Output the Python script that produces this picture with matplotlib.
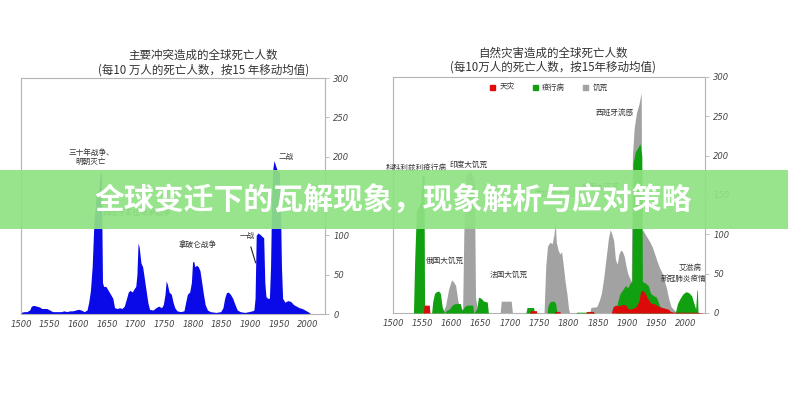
import matplotlib
matplotlib.use('Agg')
import matplotlib.pyplot as plt
from matplotlib.patches import Rectangle, Patch

plt.rcParams['font.family'] = ['Noto Sans CJK SC', 'DejaVu Sans']

# ---------------- data ----------------
# Left panel: deaths from major conflicts (per 100k, 15-yr moving average)
conflict_years = [1500, 1505, 1510, 1515, 1518, 1522, 1527, 1532, 1536, 1540, 1545, 1550, 1555, 1560,
                  1565, 1570, 1575, 1580, 1585, 1590, 1595, 1600, 1605, 1610, 1615, 1618, 1621, 1624,
                  1627, 1631, 1634, 1636, 1638, 1640, 1642, 1644, 1648, 1652, 1656, 1660, 1663, 1668,
                  1672, 1676, 1680, 1684, 1687, 1690, 1694, 1697, 1700, 1702, 1704, 1706, 1709, 1712,
                  1715, 1718, 1721, 1724, 1730, 1735, 1740, 1745, 1748, 1751, 1753, 1755, 1758, 1762,
                  1765, 1768, 1772, 1778, 1784, 1787, 1790, 1794, 1797, 1799, 1801, 1803, 1806, 1809,
                  1812, 1815, 1818, 1821, 1825, 1830, 1840, 1848, 1852, 1855, 1858, 1861, 1865, 1869,
                  1873, 1877, 1882, 1890, 1897, 1903, 1906, 1908, 1910, 1913, 1917, 1921, 1923, 1925,
                  1927, 1930, 1933, 1935, 1937, 1939, 1941, 1944, 1947, 1950, 1952, 1954, 1956, 1960,
                  1965, 1970, 1975, 1980, 1985, 1990, 1995, 2000, 2004]
conflict_vals = [2, 3, 3, 5, 10, 11, 10, 9, 7, 7, 7, 5, 3, 3,
                 3, 3, 4, 3, 4, 4, 5, 6, 5, 3, 5, 15, 30, 60,
                 115, 150, 155, 160, 180, 178, 40, 35, 35, 30, 25, 20, 8, 7,
                 8, 7, 10, 20, 28, 30, 28, 32, 35, 50, 90, 85, 65, 60,
                 45, 30, 15, 6, 5, 8, 10, 8, 12, 25, 42, 38, 28, 25,
                 15, 8, 4, 3, 4, 15, 25, 28, 40, 66, 67, 60, 62, 60,
                 55, 40, 25, 12, 5, 3, 2, 3, 8, 20, 27, 28, 25, 20,
                 12, 5, 3, 2, 3, 4, 5, 20, 100, 103, 101, 98, 97, 40,
                 22, 20, 20, 60, 150, 185, 195, 188, 182, 180, 150, 60, 20, 15,
                 17, 16, 12, 10, 8, 7, 5, 3, 1]

# Right panel: deaths from natural disasters
famine_years = [1500, 1585, 1590, 1595, 1600, 1603, 1607, 1611, 1615, 1619, 1621, 1624, 1628, 1632,
                1636, 1639, 1641, 1645, 1683, 1685, 1702, 1704, 1758, 1761, 1764, 1768, 1772, 1775,
                1777, 1779, 1782, 1785, 1788, 1791, 1794, 1797, 1800, 1802, 1836, 1838, 1848, 1852,
                1856, 1860, 1864, 1868, 1871, 1874, 1877, 1880, 1883, 1886, 1889, 1892, 1895, 1898,
                1901, 1904, 1907, 1909, 1912, 1916, 1920, 1924, 1925, 1927, 1931, 1935, 1939, 1943,
                1947, 1951, 1955, 1959, 1963, 1967, 1971, 1975, 1980, 1985, 2030]
famine_vals = [0, 0, 10, 30, 42, 40, 35, 15, 5, 5, 100, 175, 178, 180,
               175, 170, 20, 0, 0, 15, 15, 0, 0, 60, 85, 90, 88, 100,
               116, 90, 80, 75, 78, 60, 40, 25, 5, 0, 0, 7, 8, 15,
               25, 45, 70, 95, 106, 100, 92, 68, 62, 75, 80, 78, 72, 60,
               50, 45, 40, 200, 235, 255, 265, 280, 105, 105, 100, 95, 90, 84,
               75, 66, 58, 52, 42, 32, 18, 8, 4, 0, 0]

epidemic_years = [1500, 1535, 1537, 1540, 1544, 1547, 1550, 1553, 1554, 1566, 1568, 1571, 1574, 1578,
                  1581, 1584, 1588, 1591, 1596, 1601, 1606, 1611, 1615, 1618, 1622, 1626, 1632, 1636,
                  1638, 1643, 1646, 1650, 1655, 1661, 1663, 1727, 1729, 1740, 1742, 1763, 1765, 1768,
                  1771, 1775, 1778, 1780, 1812, 1814, 1842, 1845, 1880, 1884, 1888, 1893, 1897, 1901,
                  1905, 1908, 1910, 1914, 1918, 1922, 1925, 1926, 1931, 1936, 1940, 1945, 1950, 1955,
                  1960, 1965, 1975, 1982, 1986, 1990, 1995, 2000, 2005, 2010, 2015, 2017, 2019, 2020,
                  2021, 2030]
epidemic_vals = [0, 0, 65, 130, 135, 140, 175, 175, 0, 0, 15, 25, 27, 28,
                 25, 8, 0, 3, 5, 10, 12, 12, 12, 3, 8, 10, 10, 10,
                 0, 5, 20, 19, 15, 14, 0, 0, 7, 7, 0, 0, 10, 14,
                 15, 15, 12, 0, 0, 1, 1, 0, 0, 15, 25, 30, 35, 32,
                 38, 40, 190, 205, 210, 215, 200, 40, 38, 35, 25, 22, 20, 10,
                 3, 1, 0, 0, 12, 18, 24, 27, 26, 22, 10, 5, 28, 30,
                 0, 0]

disaster_years = [1500, 1552, 1553, 1562, 1563, 1733, 1735, 1745, 1746, 1775, 1777, 1785, 1786, 1829,
                  1831, 1842, 1844, 1873, 1876, 1880, 1886, 1892, 1898, 1901, 1905, 1910, 1915, 1920,
                  1923, 1927, 1931, 1934, 1938, 1942, 1946, 1950, 1955, 1960, 1965, 1970, 1974, 1980,
                  2020, 2030]
disaster_vals = [0, 0, 10, 10, 0, 0, 3, 3, 0, 0, 2, 2, 0, 0,
                 2, 2, 0, 0, 8, 10, 9, 11, 10, 6, 5, 6, 8, 15,
                 27, 29, 25, 20, 15, 12, 12, 10, 8, 7, 6, 5, 2, 1,
                 1, 0]

x_ticks = list(range(1500, 2001, 50))
y_ticks = [0, 50, 100, 150, 200, 250, 300]

left_title = ["主要冲突造成的全球死亡人数", "(每10 万人的死亡人数，按15 年移动均值)"]
right_title = ["自然灾害造成的全球死亡人数", "(每10万人的死亡人数，按15年移动均值)"]
legend_labels = ["天灾", "疫行病", "饥荒"]
banner_text = "全球变迁下的瓦解现象，现象解析与应对策略"

BLUE = '#0a0ae8'
GREEN = '#10a010'
GREY = '#a2a2a2'
RED = '#dd0a0a'
SPINE = '#b4b4b4'
TXT = '#333333'

fig = plt.figure(figsize=(7.88, 4.0), dpi=100)
ax1 = fig.add_axes([0.0267, 0.215, 0.3858, 0.59])
ax2 = fig.add_axes([0.4987, 0.2175, 0.396, 0.59])


def style(ax, xmax):
    ax.set_xlim(1500, xmax)
    ax.set_ylim(0, 300)
    ax.set_xticks(x_ticks)
    ax.set_yticks(y_ticks)
    ax.yaxis.tick_right()
    for s in ax.spines.values():
        s.set_color(SPINE)
        s.set_linewidth(0.8)
    ax.tick_params(axis='x', length=0, pad=4, labelsize=6, labelcolor='#444444')
    ax.tick_params(axis='y', length=3, width=0.6, color=SPINE, pad=3, labelsize=6,
                   labelcolor='#444444')
    for lab in ax.get_xticklabels() + ax.get_yticklabels():
        lab.set_fontstyle('italic')
        lab.set_family(['DejaVu Sans'])


ax1.fill_between(conflict_years, conflict_vals, 0, color=BLUE, lw=0)
style(ax1, 2030)

ax2.fill_between(famine_years, famine_vals, 0, color=GREY, lw=0, zorder=2)
ax2.fill_between(epidemic_years, epidemic_vals, 0, color=GREEN, lw=0, zorder=3)
ax2.fill_between(disaster_years, disaster_vals, 0, color=RED, lw=0, zorder=4)
style(ax2, 2033)

handles = [Patch(color=RED), Patch(color=GREEN), Patch(color=GREY)]
ax2.legend(handles, legend_labels, loc='upper center', bbox_to_anchor=(0.5, 1.0), ncol=3,
           frameon=False, fontsize=5.5, handlelength=0.6, handleheight=0.6,
           columnspacing=2.4, handletextpad=0.6, labelcolor=TXT)

# annotations left
ann = dict(fontsize=5.5, color=TXT, ha='center', va='center')
ax1.text(1622, 199, "三十年战争、\n明朝灭亡", linespacing=1.1, **ann)
ax1.text(1963, 199, "二战", **ann)
ax1.text(1702, 128, "西班牙王位继承战争", **ann)
ax1.text(1808, 88, "拿破仑战争", **ann)
ax1.annotate("一战", xy=(1909, 65), xytext=(1895, 99),
             arrowprops=dict(arrowstyle='-', color='#222222', lw=0.8,
                             shrinkA=3, shrinkB=0), **ann)

# annotations right
ax2.text(1539, 184, "科科利兹利疫行病", **ann)
ax2.text(1630, 188, "印度大饥荒", **ann)
ax2.text(1878, 254, "西班牙流感", **ann)
ax2.text(1589, 66, "俄国大饥荒", **ann)
ax2.text(1697, 48, "法国大饥荒", **ann)
ax2.text(1781, 152, "孟加拉大饥荒", **ann)
ax2.text(1855, 160, "中国大饥荒", **ann)
ax2.text(2008, 57, "艾滋病", **ann)
ax2.text(1997, 43, "新冠肺炎疫情", **ann)

# titles
for i, line in enumerate(left_title):
    fig.text(0.258, 1 - (55 + 15 * i) / 400, line, ha='center', va='center',
             fontsize=8.3, color=TXT)
for i, line in enumerate(right_title):
    fig.text(0.702, 1 - (53 + 14.5 * i) / 400, line, ha='center', va='center',
             fontsize=8.3, color=TXT)

# banner overlay
fig.patches.append(Rectangle((0, 0.4275), 1, 0.1475, transform=fig.transFigure,
                             facecolor='#8fe283', alpha=0.93, edgecolor='none', zorder=10))
fig.text(0.4994, 0.5, banner_text, ha='center', va='center', fontsize=21.5,
         fontweight='bold', color='white', zorder=11)

fig.savefig('out.png', dpi=100)
